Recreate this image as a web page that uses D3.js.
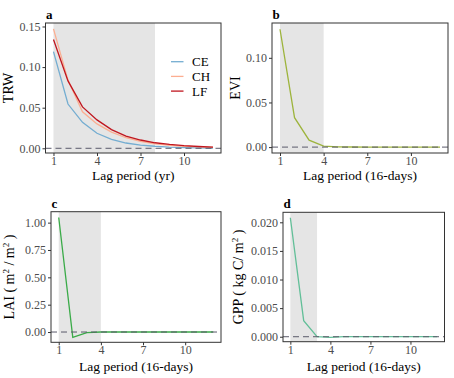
<!DOCTYPE html>
<html><head><meta charset="utf-8">
<script src="https://cdn.jsdelivr.net/npm/d3@7"></script>
<style>body{margin:0;background:#fff}svg{display:block}text{font-family:"Liberation Serif","Times New Roman",serif}</style>
</head><body>
<svg id="c" width="454" height="378"></svg>
<script>
const lags = [1,2,3,4,5,6,7,8,9,10,11,12];
const xTicks = [1,4,7,10];
const trwCE = [0.119,0.0545,0.032,0.0185,0.011,0.0065,0.004,0.0025,0.0015,0.001,0.0006,0.0003];
const trwCH = [0.147,0.084,0.045,0.030,0.020,0.013,0.0085,0.0055,0.0035,0.0025,0.0018,0.0012];
const trwLF = [0.134,0.083,0.051,0.035,0.023,0.015,0.0102,0.0068,0.0047,0.0032,0.0022,0.0015];
const evi = [0.132,0.033,0.0078,0.0012,0.0002,0.0001,0,0,0,0,0,0];
const lai = [1.047,-0.049,-0.006,0.0,0.0,0.0,0.0,0.0,0.0,0.0,0.0,0.0];
const gpp = [0.0208,0.0028,0.0,-0.0001,0.0,0.0,0.0,0.0,0.0,0.0,0.0,0.0];
const trwTicks = [0,0.05,0.10,0.15];
const eviTicks = [0,0.05,0.10];
const laiTicks = [0,0.25,0.5,0.75,1.0];
const gppTicks = [0,0.005,0.010,0.015,0.020];
const seriesNames = ["CE","CH","LF"];

const svg = d3.select("#c");
const panels = [
  {letter:"a", box:[45.5,221,23,153], yDom:[-0.0058,0.1543], yTicks:trwTicks, fmt:d3.format(".2f"), shade:8,
   series:[{name:"CE",v:trwCE,c:"#74add1"},{name:"CH",v:trwCH,c:"#fcae91"},{name:"LF",v:trwLF,c:"#c0161f"}],
   ytitle:[{t:"TRW"}], ytx:13, xtitle:"Lag period (yr)", xty:180, legend:true},
  {letter:"b", box:[272,448,23,153], yDom:[-0.0066,0.139], yTicks:eviTicks, fmt:d3.format(".2f"), shade:4,
   series:[{name:"EVI",v:evi,c:"#9db43c"}], ytitle:[{t:"EVI"}], ytx:240, xtitle:"Lag period (16-days)", xty:180},
  {letter:"c", box:[51,221,211.7,342.3], yDom:[-0.094,1.10], yTicks:laiTicks, fmt:d3.format(".2f"), shade:4,
   series:[{name:"LAI",v:lai,c:"#3aab48"}],
   ytitle:[{t:"LAI ( m"},{t:"2",sup:true},{t:" / m"},{t:"2",sup:true},{t:" )"}], ytx:14, xtitle:"Lag period (16-days)", xty:370.5},
  {letter:"d", box:[283,444.5,212.3,341.7], yDom:[-0.00087,0.02175], yTicks:gppTicks, fmt:d3.format(".3f"), shade:3,
   series:[{name:"GPP",v:gpp,c:"#62bf98"}],
   ytitle:[{t:"GPP ( kg C/ m"},{t:"2",sup:true},{t:" )"}], ytx:243, xtitle:"Lag period (16-days)", xty:370.5}
];

panels.forEach(p=>{
  const [x0,x1,y0,y1] = p.box;
  const x = d3.scaleLinear().domain([0.45,12.55]).range([x0,x1]);
  const y = d3.scaleLinear().domain(p.yDom).range([y1,y0]);
  const g = svg.append("g");
  g.append("rect").attr("x",x(1)).attr("y",y0).attr("width",x(p.shade)-x(1)).attr("height",y1-y0).attr("fill","#e5e5e5");
  const line = d3.line().x((d,i)=>x(lags[i])).y(d=>y(d));
  p.series.forEach(s=>{
    g.append("path").datum(s.v).attr("d",line).attr("fill","none").attr("stroke",s.c).attr("stroke-width",1.3);
  });
  g.append("line").attr("x1",x0).attr("x2",x1).attr("y1",y(0)).attr("y2",y(0))
    .attr("stroke","#5a5a6a").attr("stroke-width",1).attr("stroke-dasharray","6,4");
  g.append("rect").attr("x",x0).attr("y",y0).attr("width",x1-x0).attr("height",y1-y0)
    .attr("fill","none").attr("stroke","#333").attr("stroke-width",1);
  const ax = g.append("g").attr("transform",`translate(0,${y1})`).call(d3.axisBottom(x).tickValues(xTicks).tickSize(3).tickPadding(0.5).tickFormat(d3.format("d")));
  const ay = g.append("g").attr("transform",`translate(${x0},0)`).call(d3.axisLeft(y).tickValues(p.yTicks).tickSize(3).tickPadding(2).tickFormat(p.fmt));
  [ax,ay].forEach(a=>{
    a.select(".domain").remove();
    a.selectAll(".tick line").attr("stroke","#333");
    a.selectAll(".tick text").attr("fill","#4d4d4d").style("font-size","12px").style("font-family","Liberation Serif");
  });
  g.append("text").attr("x",x0+0.5).attr("y",y0-4).text(p.letter).style("font-weight","bold").style("font-size","13px");
  g.append("text").attr("x",(x0+x1)/2).attr("y",p.xty).attr("text-anchor","middle").style("font-size","13.5px").text(p.xtitle);
  const yt = g.append("text").attr("transform",`translate(${p.ytx},${(y0+y1)/2}) rotate(-90)`).attr("text-anchor","middle").style("font-size","14px");
  p.ytitle.forEach(seg=>{
    const ts = yt.append("tspan").text(seg.t);
    if(seg.sup){ ts.attr("dy",-5).style("font-size","9px"); }
    else if(yt.selectAll("tspan").size()>1){ ts.attr("dy",5); }
  });
  if(p.legend){
    p.series.forEach((s,i)=>{
      const ly = 61.7 + i*14.7;
      g.append("line").attr("x1",171).attr("x2",183.5).attr("y1",ly).attr("y2",ly).attr("stroke",s.c).attr("stroke-width",1.3);
      g.append("text").attr("x",192).attr("y",ly+4.5).style("font-size","13px").text(seriesNames[i]);
    });
  }
});
</script>
</body></html>
